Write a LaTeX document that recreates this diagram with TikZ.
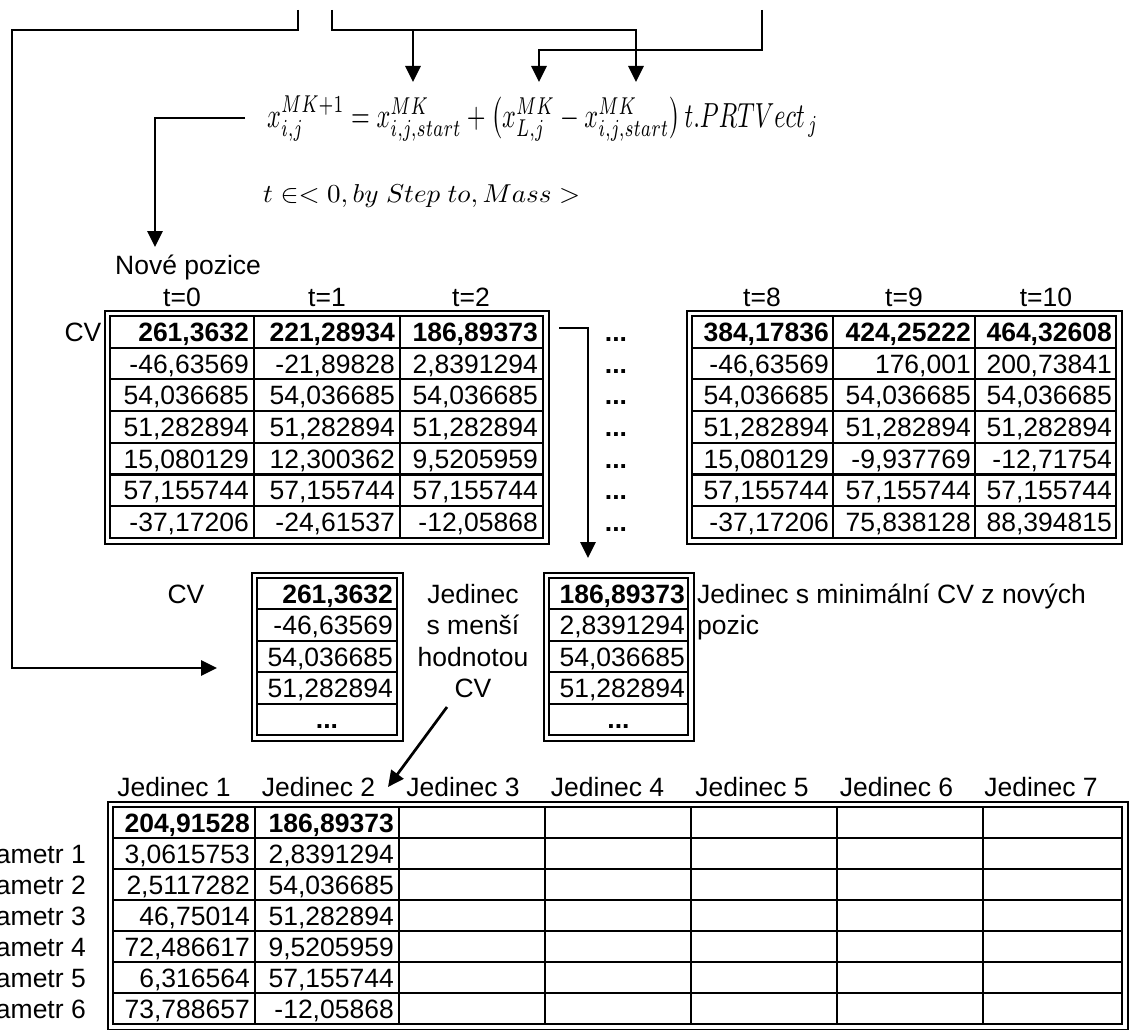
\documentclass[tikz,border=0pt]{standalone}
\usepackage[no-math]{fontspec}
\setmainfont{Liberation Sans}
\usepackage{graphicx}
\usetikzlibrary{arrows.meta}
\newcommand{\tf}{\fontsize{26.5pt}{31pt}\selectfont}
\newcommand{\numcell}[4]{\node[numtxt] (#1) at (#2,#3+9.5) {#4};}
\newcommand{\boldcell}[4]{\node[numtxt,font=\tf\bfseries] (#1) at (#2,#3+9.5) {#4};}
\newcommand{\frameit}[4]{%
  \draw[outerframe] (#1-5.5,#2-5.5) rectangle (#3+5.5,#4+5.5);
  \draw[innerframe] (#1,#2) rectangle (#3,#4);}
\begin{document}
\begin{tikzpicture}[x=1pt,y=-1pt,
  conn/.style={line width=2.7pt,-{Triangle[length=16pt,width=15pt]}},
  numtxt/.style={font=\tf,inner sep=0pt,anchor=base east},
  lbl/.style={font=\tf,inner sep=0pt,anchor=base},
  lblw/.style={font=\tf,inner sep=0pt,anchor=base west},
  dots/.style={font=\tf\bfseries,inner sep=0pt,anchor=base},
  outerframe/.style={line width=2pt},
  innerframe/.style={line width=2.7pt},
  gridline/.style={line width=2.1pt}]
\useasboundingbox (0,0) rectangle (1133,1030);

% ---------- formula ----------
\node[anchor=west,inner sep=0pt] (formula) at (267,118.5)
  {\resizebox*{551pt}{46pt}{$x_{i,j}^{MK+1} = x_{i,j,start}^{MK} + \left(x_{L,j}^{MK} - x_{i,j,start}^{MK}\right) t.PRTVect_{\,j}$}};
\node[anchor=west,inner sep=0pt] (trange) at (263,196.5)
  {\resizebox*{317pt}{23pt}{$t\in< 0, by\ Step\ to, Mass >$}};

% ---------- top table left ----------
\node[lblw] (nove) at (115,274) {Nové pozice};
\node[lbl] (h0) at (182,306.5) {t=0};
\node[lbl] (h1) at (327,306.5) {t=1};
\node[lbl] (h2) at (471,306.5) {t=2};
\node[lbl] (cvtop) at (83,341.5) {CV};
\frameit{110}{316}{543}{538}
\foreach \cx in {254,400} \draw[gridline] (\cx,316) -- (\cx,538);
\foreach \k in {1,...,6} \draw[gridline] (110,316+31.7*\k) -- (543,316+31.7*\k);
\boldcell{a11}{249}{331.85}{261,3632}
\numcell{a21}{249}{363.55}{-46,63569}
\numcell{a31}{249}{395.25}{54,036685}
\numcell{a41}{249}{426.95}{51,282894}
\numcell{a51}{249}{458.65}{15,080129}
\numcell{a61}{249}{490.35}{57,155744}
\numcell{a71}{249}{522.05}{-37,17206}
\boldcell{a12}{395}{331.85}{221,28934}
\numcell{a22}{395}{363.55}{-21,89828}
\numcell{a32}{395}{395.25}{54,036685}
\numcell{a42}{395}{426.95}{51,282894}
\numcell{a52}{395}{458.65}{12,300362}
\numcell{a62}{395}{490.35}{57,155744}
\numcell{a72}{395}{522.05}{-24,61537}
\boldcell{a13}{538}{331.85}{186,89373}
\numcell{a23}{538}{363.55}{2,8391294}
\numcell{a33}{538}{395.25}{54,036685}
\numcell{a43}{538}{426.95}{51,282894}
\numcell{a53}{538}{458.65}{9,5205959}
\numcell{a63}{538}{490.35}{57,155744}
\numcell{a73}{538}{522.05}{-12,05868}

% ---------- dots column ----------
\foreach \yy [count=\n] in {331.85,363.55,395.25,426.95,458.65,490.35,522.05}
  \node[dots] (dot\n) at (616,\yy+9.5) {...};

% ---------- top table right ----------
\node[lbl] (h8) at (762,306.5) {t=8};
\node[lbl] (h9) at (904,306.5) {t=9};
\node[lbl] (h10) at (1046,306.5) {t=10};
\frameit{692}{316}{1116}{538}
\foreach \cx in {833,975} \draw[gridline] (\cx,316) -- (\cx,538);
\foreach \k in {1,...,6} \draw[gridline] (692,316+31.7*\k) -- (1116,316+31.7*\k);
\boldcell{b11}{829}{331.85}{384,17836}
\numcell{b21}{829}{363.55}{-46,63569}
\numcell{b31}{829}{395.25}{54,036685}
\numcell{b41}{829}{426.95}{51,282894}
\numcell{b51}{829}{458.65}{15,080129}
\numcell{b61}{829}{490.35}{57,155744}
\numcell{b71}{829}{522.05}{-37,17206}
\boldcell{b12}{971}{331.85}{424,25222}
\numcell{b22}{971}{363.55}{176,001}
\numcell{b32}{971}{395.25}{54,036685}
\numcell{b42}{971}{426.95}{51,282894}
\numcell{b52}{971}{458.65}{-9,937769}
\numcell{b62}{971}{490.35}{57,155744}
\numcell{b72}{971}{522.05}{75,838128}
\boldcell{b13}{1112}{331.85}{464,32608}
\numcell{b23}{1112}{363.55}{200,73841}
\numcell{b33}{1112}{395.25}{54,036685}
\numcell{b43}{1112}{426.95}{51,282894}
\numcell{b53}{1112}{458.65}{-12,71754}
\numcell{b63}{1112}{490.35}{57,155744}
\numcell{b73}{1112}{522.05}{88,394815}

% ---------- middle tables ----------
\node[lbl] (cvmid) at (186,603.2) {CV};
\frameit{257}{578}{397}{735}
\foreach \k in {1,...,4} \draw[gridline] (257,578+31.4*\k) -- (397,578+31.4*\k);
\boldcell{c1}{393}{593.7}{261,3632}
\numcell{c2}{393}{625.1}{-46,63569}
\numcell{c3}{393}{656.5}{54,036685}
\numcell{c4}{393}{687.9}{51,282894}
\node[dots] (c5) at (327,728.8) {...};

\node[lbl] (m1) at (473,603.2) {Jedinec};
\node[lbl] (m2) at (473,634.6) {s menší};
\node[lbl] (m3) at (473,666.0) {hodnotou};
\node[lbl] (m4) at (473,697.4) {CV};

\frameit{549}{578}{688}{735}
\foreach \k in {1,...,4} \draw[gridline] (549,578+31.4*\k) -- (688,578+31.4*\k);
\boldcell{d1}{685}{593.7}{186,89373}
\numcell{d2}{685}{625.1}{2,8391294}
\numcell{d3}{685}{656.5}{54,036685}
\numcell{d4}{685}{687.9}{51,282894}
\node[dots] (d5) at (618.5,728.8) {...};
\node[lblw] (minA) at (697,603.2) {Jedinec s minimální CV z nových};
\node[lblw] (minB) at (697,634.6) {pozic};

% ---------- bottom table ----------
\foreach \k in {1,...,7}
  \node[lbl] (jed\k) at (174+144.5*\k-144.5,796.5) {Jedinec \k};
\foreach \k in {1,...,6}
  \node[numtxt] (par\k) at (86,822.5+31*\k+9.5) {Parametr \k};
\frameit{113}{807}{1122}{1024}
\foreach \cx in {255,399,545,691,837,983} \draw[gridline] (\cx,807) -- (\cx,1024);
\foreach \k in {1,...,6} \draw[gridline] (113,807+31*\k) -- (1122,807+31*\k);
\boldcell{e11}{250}{822.5}{204,91528}
\numcell{e21}{250}{853.5}{3,0615753}
\numcell{e31}{250}{884.5}{2,5117282}
\numcell{e41}{250}{915.5}{46,75014}
\numcell{e51}{250}{946.5}{72,486617}
\numcell{e61}{250}{977.5}{6,316564}
\numcell{e71}{250}{1008.5}{73,788657}
\boldcell{e12}{394}{822.5}{186,89373}
\numcell{e22}{394}{853.5}{2,8391294}
\numcell{e32}{394}{884.5}{54,036685}
\numcell{e42}{394}{915.5}{51,282894}
\numcell{e52}{394}{946.5}{9,5205959}
\numcell{e62}{394}{977.5}{57,155744}
\numcell{e72}{394}{1008.5}{-12,05868}

% ---------- connectors ----------
\coordinate (s1) at (298,10);
\coordinate (s1a) at (298,30);
\coordinate (s1b) at (12,30);
\coordinate (s1c) at (12,668);
\coordinate (tA) at (217,668);
\draw[conn] (s1) -- (s1a) -- (s1b) -- (s1c) -- (tA);

\coordinate (s2) at (332,10);
\coordinate (s2a) at (332,30);
\coordinate (s2b) at (636,30);
\coordinate (t2) at (636,82);
\coordinate (s2m) at (413,30);
\coordinate (t1) at (413,82);
\draw[conn] (s2) -- (s2a) -- (s2b) -- (t2);
\draw[conn] (s2m) -- (t1);

\coordinate (s3) at (762,10);
\coordinate (s3a) at (762,50);
\coordinate (s3b) at (539,50);
\coordinate (t3) at (539,82);
\draw[conn] (s3) -- (s3a) -- (s3b) -- (t3);

\coordinate (f0) at (245,118);
\coordinate (f1) at (155,118);
\coordinate (tN) at (155,247);
\draw[conn] (f0) -- (f1) -- (tN);

\coordinate (g0) at (559,328);
\coordinate (g1) at (588,328);
\coordinate (tB) at (588,558);
\draw[conn] (g0) -- (g1) -- (tB);

\coordinate (h0s) at (447,707);
\coordinate (tJ) at (388,787);
\draw[conn] (h0s) -- (tJ);
\end{tikzpicture}
\end{document}
